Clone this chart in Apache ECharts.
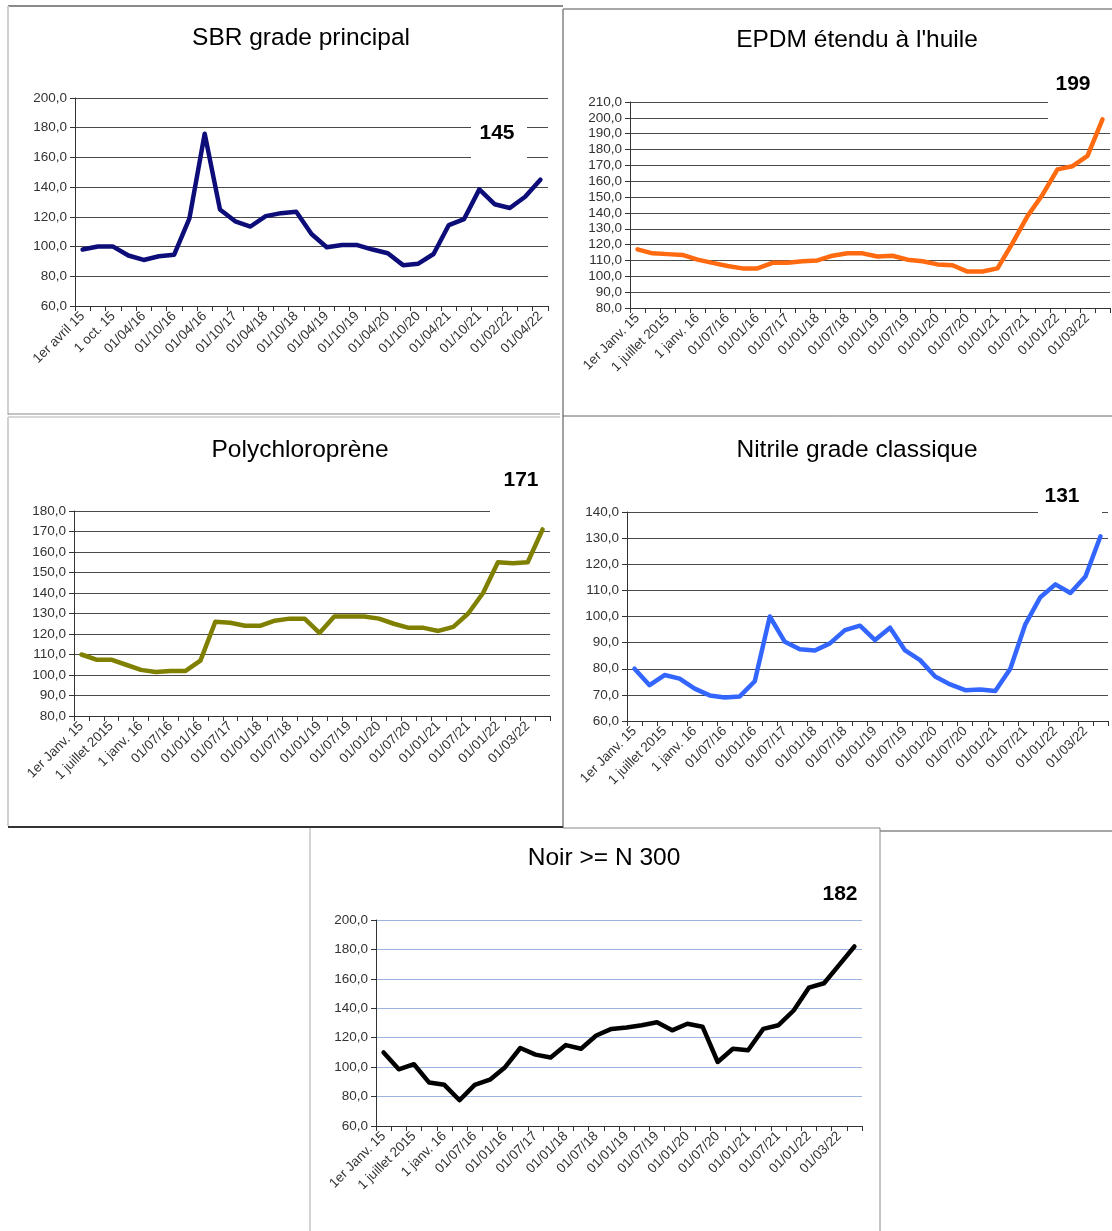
<!DOCTYPE html>
<html>
<head>
<meta charset="utf-8">
<script src="https://cdn.jsdelivr.net/npm/echarts@6/dist/echarts.min.js"></script>
<style>
html,body{margin:0;padding:0;background:#fff;}
#chart{width:1112px;height:1231px;}
</style>
</head>
<body>
<div id="chart"></div>
<script>
// ---- Data ----
var sbrLabels = ['1er avril 15','1 oct. 15','01/04/16','01/10/16','01/04/16','01/10/17','01/04/18','01/10/18','01/04/19','01/10/19','01/04/20','01/10/20','01/04/21','01/10/21','01/02/22','01/04/22'];
var sbrValues = [98, 100, 100, 94, 91, 93.5, 94.5, 119, 176, 125, 117, 113.5, 120.5, 122.5, 123.5, 108.5, 99.5, 101, 101, 98, 95.5, 87.5, 88.5, 95, 114.5, 118.5, 138.5, 128.5, 126, 133.5, 145];

var janvLabels = ['1er Janv. 15','1 juillet 2015','1 janv. 16','01/07/16','01/01/16','01/07/17','01/01/18','01/07/18','01/01/19','01/07/19','01/01/20','01/07/20','01/01/21','01/07/21','01/01/22','01/03/22'];
var epdmValues = [117, 114.5, 114, 113.5, 110.5, 108.5, 106.5, 105, 105, 108.5, 108.5, 109.5, 110, 113, 114.5, 114.5, 112.5, 113, 110.5, 109.5, 107.5, 107, 103, 103, 105, 121, 138, 151.5, 167.5, 169.5, 176, 199];
var polyValues = [110, 107.5, 107.5, 105, 102.5, 101.5, 102, 102, 107, 126, 125.5, 124, 124, 126.5, 127.5, 127.5, 120.5, 128.5, 128.5, 128.5, 127.5, 125, 123, 123, 121.5, 123.5, 130, 140, 155, 154.5, 155, 171];
var nitrileValues = [80, 73.7, 77.6, 76.2, 72.4, 69.8, 69, 69.4, 75.2, 100, 90.3, 87.5, 87, 89.7, 94.8, 96.5, 91, 95.7, 87, 83.3, 77, 74, 71.8, 72.1, 71.5, 80, 97, 107.4, 112.3, 109, 115.3, 130.7];
var noirValues = [110, 98.5, 102, 89.5, 88, 77.5, 88, 91.5, 100, 113, 108.5, 106.5, 115, 112.5, 121.5, 126, 127, 128.5, 130.5, 125, 129.5, 127.5, 103.5, 112.5, 111.5, 126, 128.5, 138.5, 154, 157, 169.5, 182];

var titles = ['SBR grade principal', "EPDM étendu à l'huile", 'Polychloroprène', 'Nitrile grade classique', 'Noir >= N 300'];
var lastValueLabels = ['145', '199', '171', '131', '182'];

// ---- Panels (layout/style) ----
var FONT = '"Liberation Sans", Arial, sans-serif';
var panels = [
  {labels: sbrLabels, values: sbrValues, color: '#0d0d7a', min: 60, max: 200, interval: 20,
   grid: {left: 75, top: 98, width: 473, height: 208}, title: [301, 26], note: [497, 133], grid_c: '#4a4a4a'},
  {labels: janvLabels, values: epdmValues, color: '#ff6a10', min: 80, max: 210, interval: 10,
   grid: {left: 630, top: 102, width: 480, height: 206}, title: [857, 28], note: [1073, 84], grid_c: '#4a4a4a'},
  {labels: janvLabels, values: polyValues, color: '#808000', min: 80, max: 180, interval: 10,
   grid: {left: 74, top: 511, width: 476, height: 205}, title: [300, 438], note: [521, 480], grid_c: '#4a4a4a'},
  {labels: janvLabels, values: nitrileValues, color: '#3366ff', min: 60, max: 140, interval: 10,
   grid: {left: 627, top: 512, width: 481, height: 209}, title: [857, 438], note: [1062, 496], grid_c: '#4a4a4a'},
  {labels: janvLabels, values: noirValues, color: '#000000', min: 60, max: 200, interval: 20,
   grid: {left: 376, top: 920, width: 486, height: 206}, title: [604, 846], note: [840, 894], grid_c: '#9db3e0'}
];

var option = {
  animation: false,
  backgroundColor: '#fff',
  title: [], grid: [], xAxis: [], yAxis: [], series: [],
  graphic: {elements: []}
};

panels.forEach(function (p, k) {
  var cats = p.values.map(function (v, i) { return 'c' + i; });
  option.title.push({
    text: titles[k], left: p.title[0], top: p.title[1], textAlign: 'center', padding: 0,
    textStyle: {fontFamily: FONT, fontSize: 24.5, fontWeight: 'normal', color: '#000'}
  });
  option.grid.push(p.grid);
  option.xAxis.push({
    type: 'category', gridIndex: k, data: cats, boundaryGap: true,
    axisLine: {lineStyle: {color: '#333', width: 1}},
    axisTick: {show: true, interval: 0, length: 5, lineStyle: {color: '#333'}},
    axisLabel: {
      interval: 0, rotate: 45, margin: 8, fontFamily: FONT, fontSize: 13.5, color: '#333',
      formatter: (function (labels) {
        return function (v, i) { return i % 2 === 0 ? (labels[i / 2] || '') : ''; };
      })(p.labels)
    },
    splitLine: {show: false}
  });
  option.yAxis.push({
    type: 'value', gridIndex: k, min: p.min, max: p.max, interval: p.interval,
    axisLine: {show: true, lineStyle: {color: '#333', width: 1}},
    axisTick: {show: true, length: 5, lineStyle: {color: '#333'}},
    axisLabel: {fontFamily: FONT, fontSize: 13.5, color: '#333', margin: 8,
      formatter: function (v) { return v.toFixed(1).replace('.', ','); }},
    splitLine: {show: true, lineStyle: {color: p.grid_c, width: 1}}
  });
  option.series.push({
    type: 'line', xAxisIndex: k, yAxisIndex: k, data: p.values, symbol: 'none', smooth: false,
    lineStyle: {color: p.color, width: 4.5, join: 'round', cap: 'round'}, z: 3
  });
  option.graphic.elements.push({
    type: 'text', x: p.note[0], y: p.note[1], z: 10,
    style: {text: lastValueLabels[k], fill: '#000', font: 'bold 21px ' + FONT, textAlign: 'center', textVerticalAlign: 'middle'}
  });
});

// white boxes behind the value labels (hide gridlines)
[[471, 115, 56, 50], [1048, 94, 64, 30], [490, 500, 62, 18], [1038, 502, 64, 18]].forEach(function (b) {
  option.graphic.elements.push({type: 'rect', shape: {x: b[0], y: b[1], width: b[2], height: b[3]}, style: {fill: '#fff'}, z: 1});
});

// panel borders (pasted picture frames)
[
  [8, 6, 563, 6, '#8a8a8a', 2], [8, 6, 8, 415, '#d0d0d0', 2], [563, 9, 563, 416, '#444', 1],
  [563, 9, 1112, 9, '#8a8a8a', 1.5],
  [8, 414, 560, 414, '#8a8a8a', 1], [8, 417, 560, 417, '#b0b0b0', 1], [563, 416, 1112, 416, '#666', 1],
  [8, 417, 8, 826, '#d0d0d0', 2], [563, 416, 563, 828, '#444', 1],
  [8, 827, 563, 827, '#333', 2], [563, 828, 880, 828, '#888', 1], [880, 831, 1112, 831, '#888', 1.5],
  [310, 828, 310, 1231, '#aaa', 1], [880, 828, 880, 1231, '#888', 1]
].forEach(function (l) {
  option.graphic.elements.push({type: 'line', shape: {x1: l[0], y1: l[1], x2: l[2], y2: l[3]}, style: {stroke: l[4], lineWidth: l[5]}, z: 5, silent: true});
});

var chart = echarts.init(document.getElementById('chart'), null, {renderer: 'canvas'});
chart.setOption(option);
</script>
</body>
</html>
